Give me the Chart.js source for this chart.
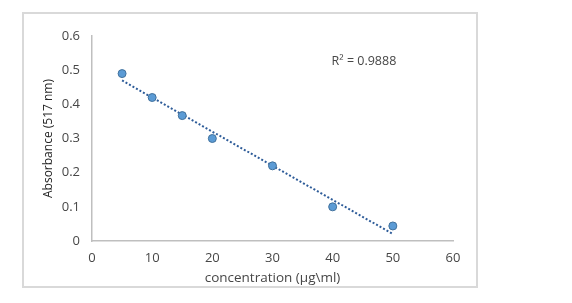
<!DOCTYPE html>
<html>
<head>
<meta charset="utf-8">
<script src="https://cdn.jsdelivr.net/npm/chart.js@4/dist/chart.umd.min.js"></script>
<style>
  body { margin: 0; background: #fff; }
  #frame {
    position: absolute; left: 22px; top: 12px;
    width: 452px; height: 272px;
    border: 2px solid #d9d9d9;
  }
</style>
</head>
<body>
<div id="frame"><canvas id="myChart" width="452" height="272"></canvas></div>
<script>
// concentración (µg/ml) y absorbancia
const concentracion = [5, 10, 15, 20, 30, 40, 50];
const absorbancia = [0.49, 0.42, 0.367, 0.30, 0.22, 0.10, 0.044];
const xTicks = [0, 10, 20, 30, 40, 50, 60];
const yTicks = [0, 0.1, 0.2, 0.3, 0.4, 0.5, 0.6];
const r2Texto = 'R² = 0.9888';

// recta de regresión lineal (línea de tendencia de Excel)
function regresion(xs, ys) {
    const n = xs.length;
    const mx = xs.reduce((a, b) => a + b, 0) / n;
    const my = ys.reduce((a, b) => a + b, 0) / n;
    let sxy = 0, sxx = 0;
    for (let i = 0; i < n; i++) {
        sxy += (xs[i] - mx) * (ys[i] - my);
        sxx += (xs[i] - mx) * (xs[i] - mx);
    }
    const m = sxy / sxx;
    return { m: m, b: my - m * mx };
}

const fit = regresion(concentracion, absorbancia);
const xMin = concentracion[0];
const xMax = concentracion[concentracion.length - 1];

const puntos = concentracion.map((x, i) => ({ x: x, y: absorbancia[i] }));
const tendencia = [
    { x: xMin, y: fit.m * xMin + fit.b },
    { x: xMax, y: fit.m * xMax + fit.b }
];

const fuente = "'Open Sans', 'DejaVu Sans', sans-serif";
const gris = '#474747';

const textoR2 = {
    id: 'textoR2',
    afterDatasetsDraw(chart) {
        const ctx = chart.ctx;
        const px = chart.scales.x.getPixelForValue(45.2);
        const py = chart.scales.y.getPixelForValue(0.527);
        ctx.save();
        ctx.font = '12.5px ' + fuente;
        ctx.fillStyle = gris;
        ctx.textAlign = 'center';
        ctx.textBaseline = 'middle';
        ctx.fillText(r2Texto, px, py);
        ctx.restore();
    }
};

new Chart(document.getElementById('myChart').getContext('2d'), {
    type: 'scatter',
    data: {
        datasets: [
            {
                label: 'tendencia',
                data: tendencia,
                type: 'line',
                showLine: true,
                borderColor: '#2E5C99',
                borderWidth: 2,
                borderDash: [2, 2],
                pointRadius: 0,
                fill: false,
                order: 2
            },
            {
                label: 'Absorbancia',
                data: puntos,
                backgroundColor: '#5B9BD5',
                borderColor: '#41719C',
                borderWidth: 1,
                pointRadius: 4,
                order: 1
            }
        ]
    },
    options: {
        responsive: false,
        animation: false,
        layout: { padding: { top: 22, right: 23, bottom: 0, left: 0 } },
        plugins: {
            legend: { display: false },
            tooltip: { enabled: false }
        },
        scales: {
            x: {
                type: 'linear',
                min: xTicks[0],
                max: xTicks[xTicks.length - 1],
                afterBuildTicks: (s) => { s.ticks = xTicks.map(v => ({ value: v })); },
                afterFit: (s) => { s.height = 45; },
                grid: { display: false, drawTicks: false },
                border: { color: '#bfbfbf', width: 1.5 },
                ticks: { color: gris, padding: 9, font: { family: fuente, size: 13 } },
                title: {
                    display: true,
                    text: 'concentration (µg\\ml)',
                    color: gris,
                    padding: 0,
                    font: { family: fuente, size: 13.5 }
                }
            },
            y: {
                min: yTicks[0],
                max: yTicks[yTicks.length - 1],
                afterBuildTicks: (s) => { s.ticks = yTicks.map(v => ({ value: v })); },
                afterFit: (s) => { s.width = 68; },
                grid: { display: false, drawTicks: false },
                border: { color: '#bfbfbf', width: 1.5 },
                ticks: {
                    color: gris, padding: 12, font: { family: fuente, size: 13 },
                    callback: (v) => String(Math.round(v * 10) / 10)
                },
                title: {
                    display: true,
                    text: 'Absorbance (517 nm)',
                    color: '#262626',
                    padding: { top: 17, bottom: 0 },
                    font: { family: fuente, size: 12 }
                }
            }
        }
    },
    plugins: [textoR2]
});
</script>
</body>
</html>
